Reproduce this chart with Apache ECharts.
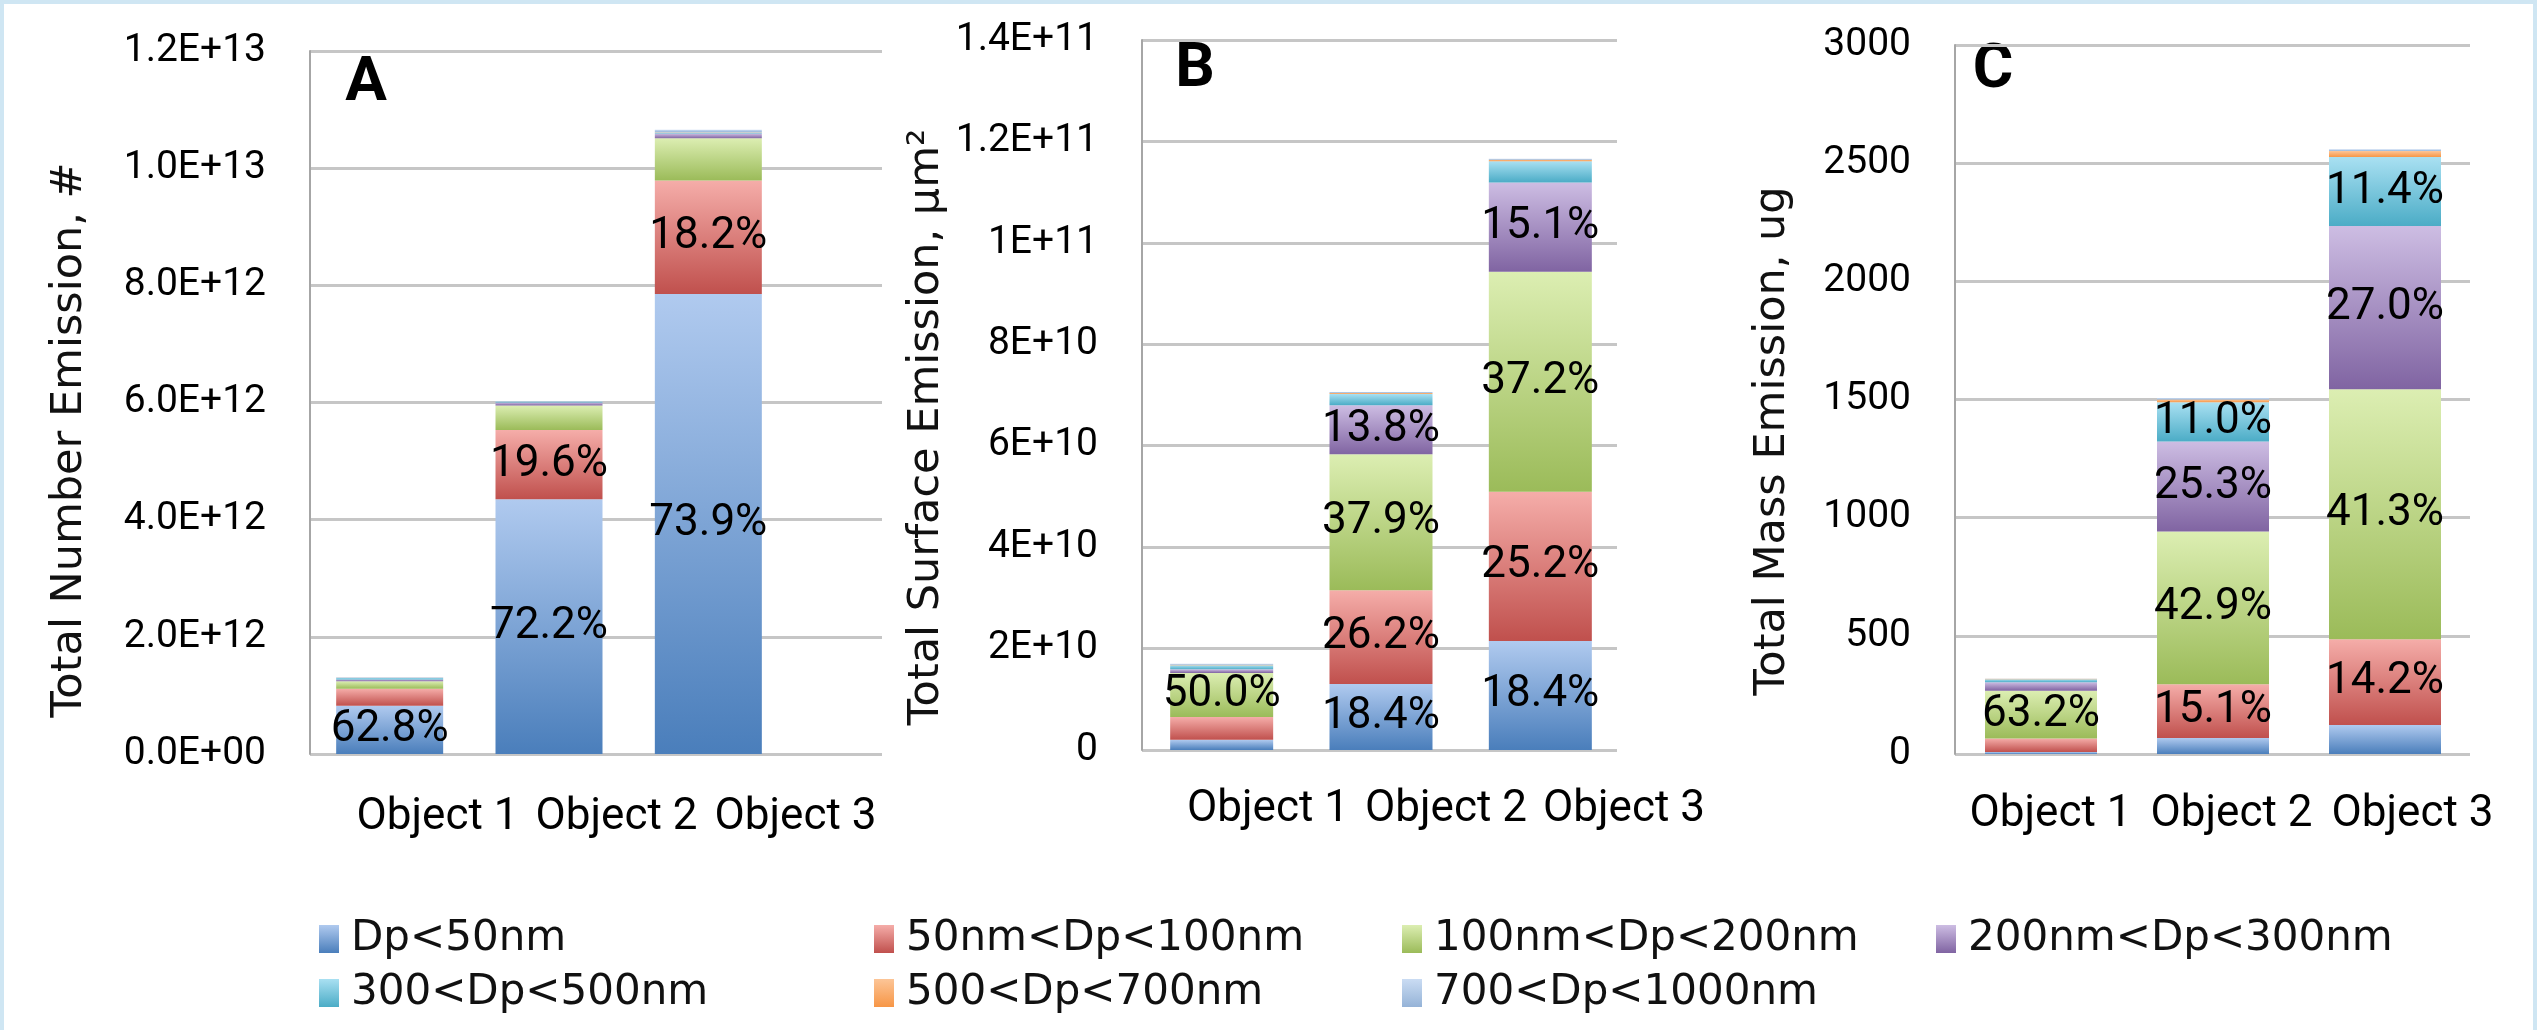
<!DOCTYPE html>
<html>
<head>
<meta charset="utf-8">
<script src="https://cdn.jsdelivr.net/npm/echarts@6/dist/echarts.min.js"></script>
<style>
html,body{margin:0;padding:0;background:#fff;}
#chart{width:2538px;height:1030px;}
</style>
</head>
<body>
<div id="chart"></div>
<script>
// ---------- DATA ----------
const categories = ['Object 1', 'Object 2', 'Object 3'];
const seriesNames = ['Dp<50nm', '50nm<Dp<100nm', '100nm<Dp<200nm', '200nm<Dp<300nm',
                     '300<Dp<500nm', '500<Dp<700nm', '700<Dp<1000nm'];

// Panel A: Total Number Emission, #
const numDp50      = [0.823e12, 4.35e12, 7.85e12];
const num50to100   = [0.290e12, 1.18e12, 1.94e12];
const num100to200  = [0.130e12, 0.42e12, 0.72e12];
const num200to300  = [0.030e12, 0.05e12, 0.08e12];
const num300to500  = [0.025e12, 0.015e12, 0.02e12];
const num500to700  = [0.003e12, 0.003e12, 0.005e12];
const num700to1000 = [0.010e12, 0.005e12, 0.04e12];

// Panel B: Total Surface Emission, um^2
const surfDp50      = [0.20e10, 1.30e10, 2.15e10];
const surf50to100   = [0.45e10, 1.85e10, 2.94e10];
const surf100to200  = [0.87e10, 2.68e10, 4.34e10];
const surf200to300  = [0.07e10, 0.97e10, 1.76e10];
const surf300to500  = [0.08e10, 0.22e10, 0.42e10];
const surf500to700  = [0.01e10, 0.02e10, 0.03e10];
const surf700to1000 = [0.02e10, 0.02e10, 0.02e10];

// Panel C: Total Mass Emission, ug
const massDp50      = [8, 68, 123];
const mass50to100   = [58, 227, 363];
const mass100to200  = [202, 646, 1057];
const mass200to300  = [36, 381, 691];
const mass300to500  = [12, 166, 292];
const mass500to700  = [2, 12, 25];
const mass700to1000 = [1, 6, 8];

// Percentage labels shown on segments
const numLabelsDp50    = ['62.8%', '72.2%', '73.9%'];
const numLabels50to100 = ['', '19.6%', '18.2%'];
const surfLabelsDp50     = ['', '18.4%', '18.4%'];
const surfLabels50to100  = ['', '26.2%', '25.2%'];
const surfLabels100to200 = ['50.0%', '37.9%', '37.2%'];
const surfLabels200to300 = ['', '13.8%', '15.1%'];
const massLabels50to100  = ['', '15.1%', '14.2%'];
const massLabels100to200 = ['63.2%', '42.9%', '41.3%'];
const massLabels200to300 = ['', '25.3%', '27.0%'];
const massLabels300to500 = ['', '11.0%', '11.4%'];

// Tick labels
const tickLabelsA = ['0.0E+00', '2.0E+12', '4.0E+12', '6.0E+12', '8.0E+12', '1.0E+13', '1.2E+13'];
const tickLabelsB = ['0', '2E+10', '4E+10', '6E+10', '8E+10', '1E+11', '1.2E+11', '1.4E+11'];
const tickLabelsC = ['0', '500', '1000', '1500', '2000', '2500', '3000'];

const axisTitles = ['Total Number Emission, #', 'Total Surface Emission, μm²', 'Total Mass Emission, ug'];
const panelLetters = ['A', 'B', 'C'];

// ---------- STYLE ----------
const colorStops = [
  ['#B0CAEF', '#4A7EBB'],
  ['#F5ADA9', '#C0504D'],
  ['#DCEEB2', '#9BBB59'],
  ['#CDBDE3', '#8064A2'],
  ['#A9E0F2', '#4BACC6'],
  ['#FCC597', '#F79646'],
  ['#CADCF3', '#95B3D7']
];
function grad(k) {
  return new echarts.graphic.LinearGradient(0, 0, 0, 1, [
    {offset: 0, color: colorStops[k][0]},
    {offset: 1, color: colorStops[k][1]}
  ]);
}

const panels = [
  {
    values: [numDp50, num50to100, num100to200, num200to300, num300to500, num500to700, num700to1000],
    labels: [numLabelsDp50, numLabels50to100, null, null, null, null, null],
    ticks: tickLabelsA, max: 1.2e13, interval: 2e12,
    bg: {left: 310, top: 51, width: 572, height: 703},
    bar: {left: 310, top: 51, width: 478, height: 703},
    lab: {left: 348, top: 51, width: 537, height: 703},
    barWidth: 107, labMargin: 42,
    title: {x: 70, y: 440}, letter: {x: 366, y: 84}
  },
  {
    values: [surfDp50, surf50to100, surf100to200, surf200to300, surf300to500, surf500to700, surf700to1000],
    labels: [surfLabelsDp50, surfLabels50to100, surfLabels100to200, surfLabels200to300, null, null, null],
    ticks: tickLabelsB, max: 1.4e11, interval: 2e10,
    bg: {left: 1142, top: 40, width: 475, height: 710},
    bar: {left: 1142, top: 40, width: 478, height: 710},
    lab: {left: 1179, top: 40, width: 534, height: 710},
    barWidth: 103, labMargin: 38,
    title: {x: 927, y: 427}, letter: {x: 1195, y: 70}
  },
  {
    values: [massDp50, mass50to100, mass100to200, mass200to300, mass300to500, mass500to700, mass700to1000],
    labels: [null, massLabels50to100, massLabels100to200, massLabels200to300, massLabels300to500, null, null],
    ticks: tickLabelsC, max: 3000, interval: 500,
    bg: {left: 1955, top: 45, width: 515, height: 709},
    bar: {left: 1955, top: 45, width: 516, height: 709},
    lab: {left: 1960, top: 45, width: 543, height: 709},
    barWidth: 112, labMargin: 39,
    title: {x: 1773, y: 441}, letter: {x: 1993, y: 71}
  }
];

const grids = [], xAxes = [], yAxes = [], series = [], graphics = [];

panels.forEach((p, pi) => {
  const gBg = pi * 3, gBar = pi * 3 + 1, gLab = pi * 3 + 2;
  grids.push(p.bg, p.bar, p.lab);
  // background grid: y axis, gridlines
  xAxes.push({gridIndex: gBg, type: 'category', data: categories, show: false});
  yAxes.push({
    gridIndex: gBg, type: 'value', min: 0, max: p.max, interval: p.interval,
    axisLine: {show: true, lineStyle: {color: '#A6A6A6', width: 2}},
    axisTick: {show: false},
    splitLine: {show: true, lineStyle: {color: '#C6C6C6', width: 3}},
    axisLabel: {
      margin: 44, color: '#000', fontFamily: 'Roboto', fontSize: 39,
      padding: [12, 0, 0, 0],
      formatter: (v) => p.ticks[Math.round(v / p.interval)]
    }
  });
  // bar grid
  xAxes.push({gridIndex: gBar, type: 'category', data: categories, show: false});
  yAxes.push({gridIndex: gBar, type: 'value', min: 0, max: p.max, interval: p.interval, show: false});
  // label grid
  xAxes.push({
    gridIndex: gLab, type: 'category', data: categories,
    axisLine: {show: false}, axisTick: {show: false}, splitLine: {show: false},
    axisLabel: {interval: 0, margin: p.labMargin, color: '#000', fontFamily: 'Roboto', fontSize: 44}
  });
  yAxes.push({gridIndex: gLab, type: 'value', min: 0, max: p.max, show: false});

  p.values.forEach((vals, k) => {
    const labs = p.labels[k];
    series.push({
      name: seriesNames[k], type: 'bar', stack: 'panel' + pi,
      xAxisIndex: gBar, yAxisIndex: gBar, barWidth: p.barWidth,
      itemStyle: {color: grad(k)},
      label: {show: false, position: 'inside', fontFamily: 'Roboto', fontSize: 44, color: '#000'},
      emphasis: {disabled: true},
      data: vals.map((v, i) => {
        const d = {value: v};
        if (labs && labs[i]) d.label = {show: true, formatter: labs[i]};
        return d;
      })
    });
  });

  graphics.push({
    type: 'text', x: p.title.x, y: p.title.y, rotation: Math.PI / 2,
    style: {text: axisTitles[pi], fill: '#111', font: '43px "DejaVu Sans"', textAlign: 'center', textVerticalAlign: 'middle'}
  });
  graphics.push({
    type: 'text', x: p.letter.x, y: p.letter.y,
    style: {text: panelLetters[pi], fill: '#000', font: 'bold 62px Roboto', textAlign: 'center', textVerticalAlign: 'middle'}
  });
});

graphics.push({
  type: 'rect', shape: {x: 2, y: 2, width: 2533, height: 1040},
  style: {fill: 'none', stroke: '#CFE6F3', lineWidth: 4}, z: 100
});

const legendPos = [[319, 918], [874, 918], [1402, 918], [1936, 918], [319, 972], [874, 972], [1402, 972]];
const legends = seriesNames.map((n, k) => ({
  data: [n], left: legendPos[k][0], top: legendPos[k][1], padding: 0,
  icon: 'rect', itemWidth: 20, itemHeight: 28, selectedMode: false,
  textStyle: {fontFamily: 'DejaVu Sans', fontSize: 42, color: '#111', padding: [0, 0, 0, 7]}
}));

const chart = echarts.init(document.getElementById('chart'), null, {renderer: 'canvas'});
chart.setOption({
  animation: false,
  backgroundColor: '#fff',
  grid: grids,
  xAxis: xAxes,
  yAxis: yAxes,
  legend: legends,
  series: series,
  graphic: graphics
});
</script>
</body>
</html>
